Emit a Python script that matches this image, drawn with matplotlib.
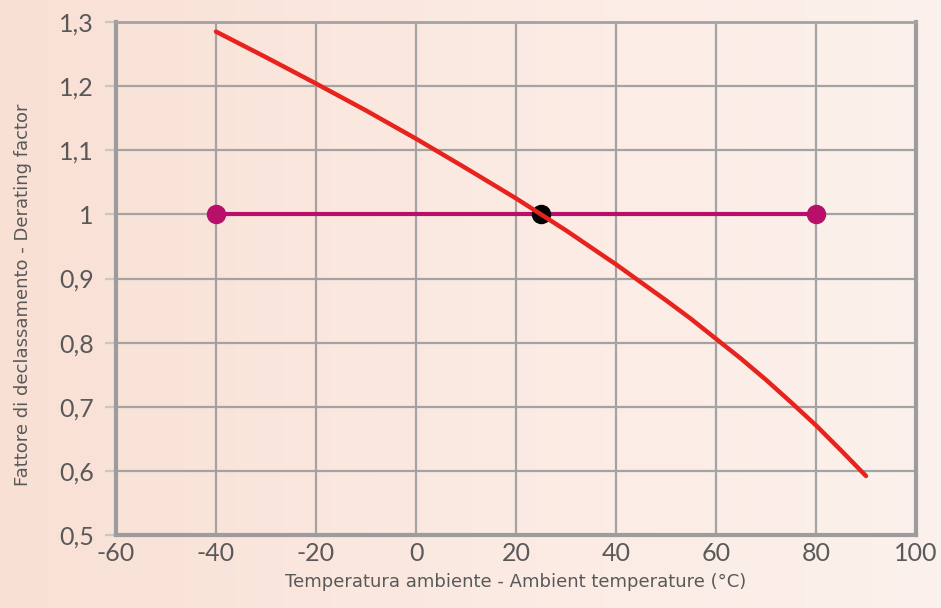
#!/usr/bin/env python3
import numpy as np
import matplotlib
matplotlib.use("Agg")
import matplotlib.pyplot as plt
from matplotlib import font_manager
from matplotlib.colors import LinearSegmentedColormap

# derating curve
temp = [-40, -30, -20, -10, 0, 10, 20, 25, 30, 40, 45, 50, 55, 60, 65, 70,
        75, 80, 85, 90]
factor = [1.285, 1.245, 1.204, 1.162, 1.118, 1.072, 1.025, 1.0, 0.975,
          0.922, 0.894, 0.866, 0.837, 0.806, 0.775, 0.742, 0.707, 0.671,
          0.632, 0.592]

# operating range line and reference point
range_temp = [-40, 80]
range_factor = [1.0, 1.0]
ref_temp = [25]
ref_factor = [1.0]

x_ticks = [-60, -40, -20, 0, 20, 40, 60, 80, 100]
y_ticks = [0.5, 0.6, 0.7, 0.8, 0.9, 1.0, 1.1, 1.2, 1.3]
y_labels = ["0,5", "0,6", "0,7", "0,8", "0,9", "1", "1,1", "1,2", "1,3"]

plt.rcParams["axes.unicode_minus"] = False
names = {f.name for f in font_manager.fontManager.ttflist}
tick_font = "Lato" if "Lato" in names else "DejaVu Sans"

fig = plt.figure(figsize=(9.41, 6.08), dpi=100)

# background gradient
bg = fig.add_axes([0, 0, 1, 1], zorder=-10)
cmap = LinearSegmentedColormap.from_list("bg", ["#f9e0d5", "#fbeae2", "#fcf1ec"])
grad = np.linspace(0, 1, 256).reshape(1, -1)
bg.imshow(grad, aspect="auto", cmap=cmap, extent=[0, 1, 0, 1])
bg.axis("off")

ax = fig.add_axes([116 / 941, 73 / 608, 800 / 941, 513 / 608])
ax.patch.set_alpha(0)

ax.plot(range_temp, range_factor, color="#b8106a", lw=3, marker="o",
        markersize=13, zorder=3)
ax.plot(ref_temp, ref_factor, "o", color="black", markersize=13, zorder=4)
ax.plot(temp, factor, color="#e8231e", lw=3.2, zorder=5, solid_capstyle="round")

ax.set_xlim(-60, 100)
ax.set_ylim(0.5, 1.3)
ax.set_xticks(x_ticks)
ax.set_yticks(y_ticks)
ax.set_yticklabels(y_labels)
ax.grid(True, color="#a3a3a3", lw=1.6)
ax.set_axisbelow(True)

for side in ["left", "bottom", "right"]:
    ax.spines[side].set_color("#9c9c9c")
    ax.spines[side].set_linewidth(3)
ax.spines["top"].set_color("#a3a3a3")
ax.spines["top"].set_linewidth(2)

ax.tick_params(axis="y", length=8, width=1.6, color="#c8c8c8",
               labelsize=18, labelcolor="#595959", pad=8)
ax.tick_params(axis="x", length=0, labelsize=18, labelcolor="#595959", pad=5)
for lab in ax.get_xticklabels() + ax.get_yticklabels():
    lab.set_fontfamily(tick_font)

ax.set_xlabel("Temperatura ambiente - Ambient temperature (°C)", fontsize=13,
              color="#595959", labelpad=6)
ax.set_ylabel("Fattore di declassamento - Derating factor", fontsize=13,
              color="#595959")
ax.yaxis.set_label_coords(-84 / 800, 0.468)

fig.savefig("out.png", dpi=100)
